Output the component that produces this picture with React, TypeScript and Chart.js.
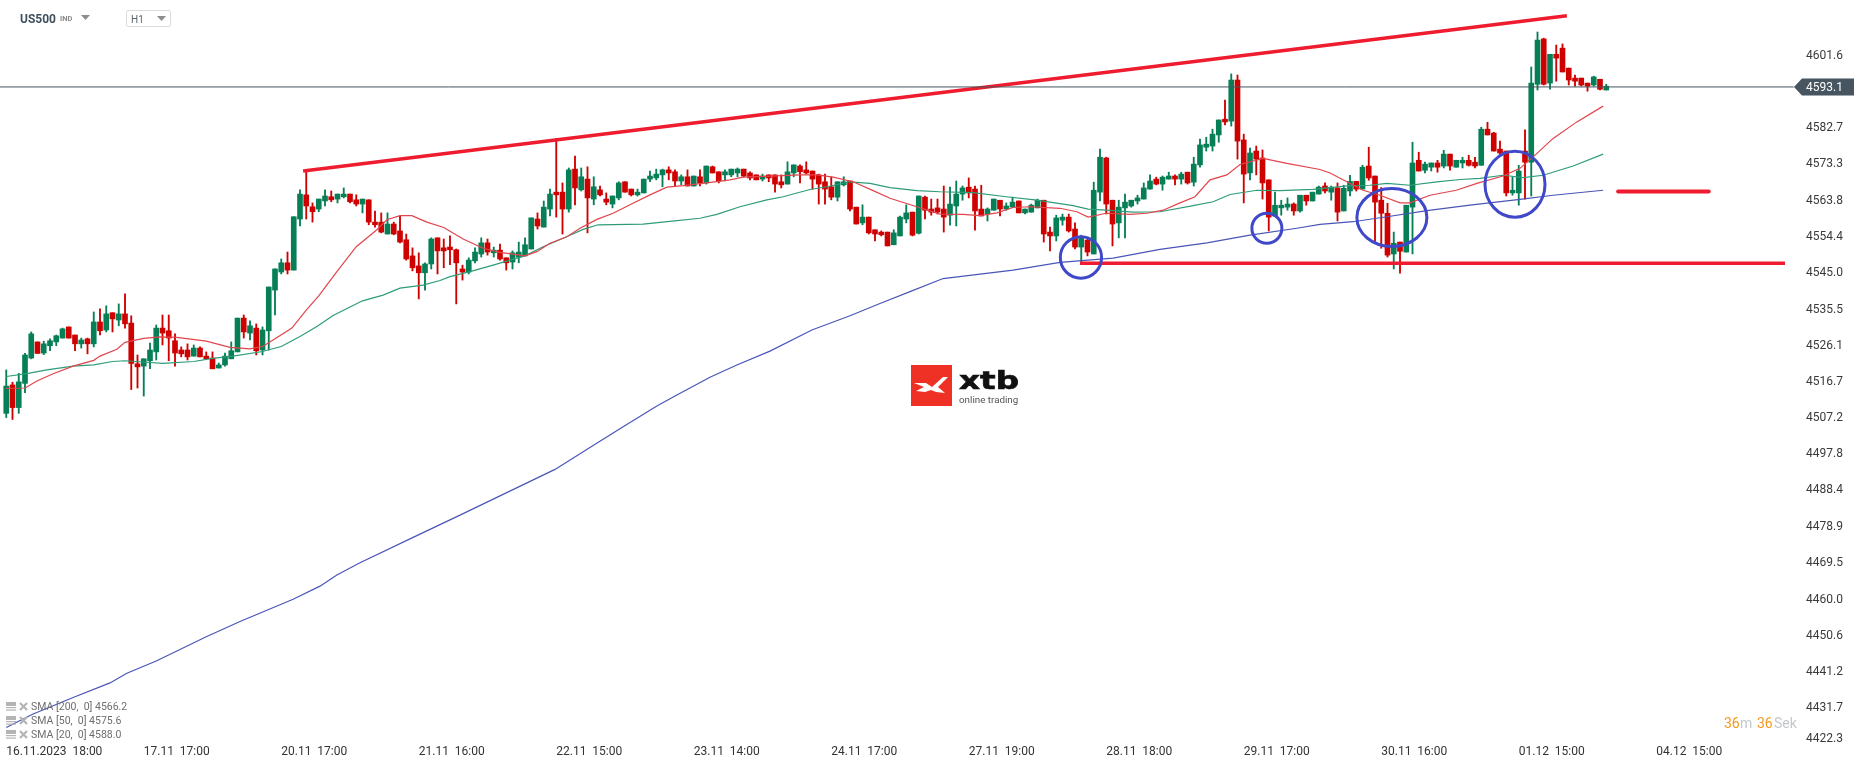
import React, { useEffect, useRef } from "react";
import { Chart, registerables } from "chart.js";

Chart.register(...registerables);

const candleDirections =
  "GRGGGRGGGG" + "RRGRGRGRGR" + "RRGGGRRRRR" + "GRRRGGGGRG" + "RGGGGRGGRR" + "GGRGGRRGRR" +
  "RGRRRRRGGR" + "RRRRGGGRGR" + "RGGGGRGGRR" + "GRGRGRRGGR" + "RGGGGGRRGR" + "GRGRRGGGRR" +
  "RGRRRGGRRR" + "RRRGGRRGRR" + "RRGGGRGRRR" + "RGGGRRRGGR" + "GGRGGGRRGG" + "RRGRGGRRGG" +
  "GGGGRGGRGR" + "GGGGGRGRRG" + "RRRGGGRGRG" + "GRGRGGRGRR" + "RRGRGGRGGR" + "GRGGRRGRRR" +
  "RGGRGGRGRR" + "RRRRGRG";

const bodyHigh = [
  4515.2,4515.5,4516.3,4523.3,4528.8,4526.7,4526.2,4527.0,4528.3,4530.1,
  4530.6,4528.5,4527.2,4527.5,4531.9,4531.9,4534.0,4534.3,4534.0,4534.0,
  4531.6,4521.0,4522.3,4524.6,4530.3,4530.3,4529.6,4527.0,4524.6,4524.6,
  4525.1,4525.1,4523.0,4522.5,4520.7,4523.0,4524.4,4532.9,4532.9,4530.9,
  4530.3,4529.8,4541.0,4545.7,4547.3,4547.3,4559.3,4565.2,4565.0,4561.9,
  4563.9,4564.7,4564.5,4565.2,4565.2,4565.2,4563.7,4563.9,4563.7,4557.9,
  4557.9,4557.4,4557.4,4555.6,4553.3,4549.1,4546.5,4547.0,4553.5,4553.8,
  4551.2,4551.4,4550.7,4545.7,4548.0,4550.1,4552.5,4552.5,4550.6,4550.6,
  4548.6,4549.9,4550.1,4552.0,4559.0,4558.7,4561.8,4565.2,4565.7,4565.7,
  4571.5,4571.7,4569.7,4569.1,4567.1,4566.3,4563.9,4564.7,4568.1,4568.4,
  4566.5,4565.7,4569.1,4569.9,4570.4,4571.5,4571.5,4571.0,4569.7,4569.7,
  4569.9,4569.7,4572.5,4572.3,4571.0,4571.0,4571.7,4571.7,4571.7,4570.7,
  4570.2,4569.9,4570.2,4570.2,4568.4,4571.0,4572.8,4572.5,4571.5,4571.2,
  4570.2,4568.4,4567.1,4568.4,4568.4,4568.6,4561.8,4559.2,4559.2,4555.9,
  4555.3,4555.3,4555.1,4559.2,4560.3,4560.5,4564.7,4564.4,4561.3,4561.6,
  4561.3,4562.6,4565.2,4566.8,4567.0,4566.5,4561.3,4561.3,4563.9,4563.6,
  4562.1,4563.1,4563.4,4561.3,4562.3,4563.6,4563.6,4555.3,4559.0,4559.2,
  4559.2,4556.1,4554.0,4553.2,4566.2,4574.8,4574.6,4563.6,4561.8,4563.1,
  4563.6,4564.2,4566.8,4568.6,4569.1,4569.6,4569.9,4569.9,4570.4,4570.9,
  4573.0,4578.0,4578.2,4580.8,4584.5,4584.7,4594.9,4594.9,4579.3,4575.9,
  4576.4,4574.6,4568.9,4562.3,4562.3,4562.6,4562.6,4564.9,4564.9,4565.7,
  4567.0,4567.3,4567.0,4566.8,4566.7,4568.5,4568.5,4572.2,4572.5,4569.9,
  4563.6,4560.2,4552.4,4552.7,4562.3,4573.3,4574.0,4573.0,4573.3,4573.3,
  4575.6,4575.6,4574.0,4574.0,4574.0,4573.5,4582.1,4582.1,4581.1,4576.9,
  4576.4,4566.2,4571.2,4576.4,4594.1,4605.3,4605.6,4601.6,4601.6,4603.2,
  4598.0,4595.4,4595.4,4594.1,4595.7,4595.1,4593.3,
];

const bodyLow = [
  4508.1,4509.6,4509.6,4515.9,4522.5,4523.7,4523.8,4525.7,4526.7,4527.7,
  4527.7,4526.2,4526.2,4526.2,4526.2,4529.6,4529.8,4532.7,4532.4,4531.4,
  4521.1,4520.2,4520.4,4521.8,4524.1,4529.0,4527.7,4523.8,4523.6,4522.8,
  4523.0,4522.8,4522.3,4519.7,4519.9,4520.7,4522.3,4524.1,4529.3,4529.0,
  4524.4,4524.6,4529.6,4540.2,4544.9,4545.4,4545.4,4558.7,4562.1,4560.6,
  4561.3,4563.4,4563.7,4563.9,4564.5,4563.2,4562.6,4562.6,4557.9,4557.2,
  4555.3,4554.8,4554.8,4552.7,4548.3,4546.0,4544.7,4544.7,4547.0,4550.4,
  4550.4,4550.7,4547.3,4544.9,4544.9,4547.8,4549.6,4550.1,4549.9,4548.3,
  4547.3,4547.5,4548.8,4549.1,4550.9,4556.9,4556.6,4561.3,4565.0,4561.3,
  4561.3,4566.8,4566.3,4564.2,4563.9,4565.0,4563.1,4562.6,4564.2,4565.7,
  4565.0,4565.0,4565.5,4569.1,4569.4,4570.2,4570.7,4568.6,4568.6,4567.3,
  4567.3,4568.1,4568.1,4570.7,4568.6,4570.2,4570.2,4570.7,4569.9,4569.4,
  4568.9,4569.1,4569.4,4567.8,4567.6,4567.8,4570.7,4571.0,4570.7,4569.1,
  4567.8,4566.5,4564.4,4564.4,4567.6,4561.3,4557.4,4557.7,4555.1,4554.8,
  4554.6,4551.7,4552.0,4554.3,4558.7,4554.5,4555.0,4561.0,4560.5,4560.5,
  4559.2,4559.7,4562.1,4565.2,4565.5,4560.8,4559.5,4560.0,4561.0,4561.3,
  4561.3,4561.8,4560.3,4560.3,4560.5,4561.6,4554.8,4554.3,4554.3,4558.4,
  4555.6,4551.4,4551.4,4550.1,4549.6,4565.7,4562.6,4557.4,4557.7,4561.6,
  4562.1,4563.4,4563.9,4566.5,4567.8,4567.8,4569.1,4569.1,4569.1,4568.1,
  4568.3,4572.8,4577.4,4577.7,4580.6,4584.0,4584.2,4579.0,4570.4,4570.7,
  4574.3,4568.1,4559.2,4559.5,4561.6,4561.8,4560.8,4560.8,4563.4,4563.4,
  4565.2,4566.0,4565.7,4560.5,4560.8,4566.0,4566.5,4566.5,4569.4,4563.1,
  4560.2,4549.3,4549.6,4550.3,4550.1,4561.8,4571.2,4571.4,4572.2,4572.2,
  4572.5,4572.5,4572.2,4573.3,4572.7,4572.5,4572.7,4580.6,4576.4,4575.9,
  4565.5,4565.5,4565.5,4573.5,4573.5,4593.8,4593.8,4594.1,4600.6,4597.0,
  4594.9,4594.6,4593.6,4593.3,4593.6,4592.5,4592.3,
];

const wickHigh = [
  4519.4,4516.2,4518.5,4523.7,4529.3,4526.7,4526.9,4527.5,4528.5,4530.3,
  4530.6,4528.5,4527.7,4527.7,4534.5,4535.3,4536.1,4534.3,4536.6,4539.2,
  4533.5,4523.3,4522.3,4526.4,4531.1,4533.7,4533.7,4528.8,4525.4,4526.2,
  4525.9,4525.4,4524.1,4524.1,4521.2,4523.8,4526.7,4532.9,4533.7,4532.2,
  4531.4,4530.6,4541.0,4545.7,4548.3,4550.1,4559.3,4566.3,4571.1,4562.9,
  4563.9,4566.3,4566.0,4565.2,4566.8,4565.2,4565.0,4563.9,4563.7,4560.8,
  4560.3,4560.3,4557.9,4559.5,4554.8,4551.2,4549.9,4547.3,4553.8,4553.8,
  4553.5,4554.3,4550.9,4546.7,4548.6,4551.2,4553.8,4553.5,4551.4,4552.2,
  4548.6,4550.4,4552.7,4553.8,4559.0,4560.3,4563.4,4566.5,4579.7,4568.1,
  4572.0,4575.1,4572.0,4572.3,4569.7,4567.3,4565.5,4564.7,4568.4,4568.4,
  4566.5,4566.5,4569.1,4571.2,4571.7,4571.7,4572.3,4571.5,4570.2,4571.5,
  4569.9,4571.5,4572.5,4572.5,4571.0,4571.5,4571.7,4572.0,4571.7,4571.0,
  4570.2,4570.4,4570.2,4570.2,4570.2,4573.6,4572.8,4572.8,4573.6,4571.2,
  4570.4,4570.4,4569.7,4568.4,4569.7,4568.6,4561.8,4562.4,4559.2,4555.9,
  4555.6,4555.3,4555.9,4559.5,4562.4,4560.5,4564.7,4564.7,4563.9,4563.9,
  4567.3,4567.0,4568.6,4567.3,4569.4,4567.3,4567.5,4561.6,4563.9,4563.6,
  4562.9,4564.4,4563.4,4561.3,4562.6,4563.9,4563.6,4556.6,4559.7,4560.0,
  4560.0,4557.7,4554.5,4554.0,4568.3,4576.9,4574.8,4563.6,4563.6,4565.2,
  4563.6,4564.9,4568.1,4570.2,4569.6,4569.9,4570.9,4570.2,4570.9,4570.9,
  4574.8,4579.5,4580.0,4582.1,4584.5,4589.7,4596.5,4596.2,4580.8,4577.2,
  4577.7,4576.7,4568.9,4565.7,4563.6,4564.2,4562.9,4564.9,4564.9,4565.7,
  4567.3,4568.1,4567.3,4568.1,4567.5,4570.1,4568.5,4572.7,4577.4,4569.9,
  4566.9,4562.8,4555.3,4552.7,4562.3,4578.7,4576.1,4573.5,4573.3,4574.0,
  4576.6,4575.6,4574.0,4574.8,4575.3,4574.8,4582.6,4583.9,4581.3,4579.0,
  4576.4,4569.6,4572.7,4581.9,4598.3,4607.4,4605.8,4601.6,4604.0,4604.3,
  4598.0,4596.2,4595.4,4594.1,4595.9,4595.1,4593.8,
];

const wickLow = [
  4507.0,4506.5,4508.1,4513.5,4522.3,4523.7,4523.4,4524.4,4525.7,4527.7,
  4527.7,4524.4,4525.1,4523.6,4525.4,4528.5,4529.3,4529.3,4530.9,4530.3,
  4514.3,4514.7,4512.6,4519.7,4522.0,4525.9,4521.8,4520.4,4522.8,4522.0,
  4523.0,4522.8,4522.3,4519.7,4519.9,4520.4,4522.3,4524.1,4527.7,4527.2,
  4523.3,4523.3,4524.6,4533.7,4544.4,4544.4,4545.4,4556.9,4558.7,4557.9,
  4560.6,4562.1,4563.2,4562.9,4564.2,4562.9,4562.1,4560.3,4557.2,4556.6,
  4555.1,4554.8,4554.6,4552.5,4548.0,4545.2,4537.9,4540.2,4545.7,4544.4,
  4546.0,4546.8,4536.6,4542.8,4544.4,4547.3,4548.8,4549.3,4548.8,4548.0,
  4545.4,4545.7,4547.3,4549.1,4550.9,4556.1,4556.6,4559.5,4559.2,4554.8,
  4560.5,4562.4,4566.0,4555.1,4562.4,4564.7,4562.4,4561.6,4563.7,4565.7,
  4564.7,4564.7,4565.5,4568.4,4568.9,4567.1,4568.9,4567.3,4567.6,4567.3,
  4567.3,4567.3,4567.8,4570.7,4568.1,4568.6,4569.7,4569.7,4569.7,4568.9,
  4568.9,4568.6,4568.4,4565.7,4566.8,4567.8,4569.7,4568.1,4570.4,4566.5,
  4562.6,4562.6,4563.7,4563.4,4567.3,4560.8,4557.4,4557.2,4554.8,4553.0,
  4554.3,4551.7,4552.0,4554.3,4557.7,4554.3,4554.8,4558.7,4559.7,4560.0,
  4555.3,4557.1,4556.9,4563.6,4564.2,4555.8,4559.5,4558.2,4561.0,4559.5,
  4561.0,4561.8,4560.3,4560.0,4560.5,4561.6,4552.7,4550.4,4553.0,4557.1,
  4555.3,4550.9,4547.5,4549.1,4549.6,4563.4,4560.0,4551.7,4553.8,4553.8,
  4561.8,4562.6,4563.9,4566.5,4567.6,4566.2,4569.1,4567.6,4567.8,4567.8,
  4567.3,4572.2,4576.4,4576.4,4578.7,4583.2,4582.9,4574.3,4562.9,4568.9,
  4570.2,4563.9,4555.6,4559.5,4559.7,4561.0,4559.7,4560.5,4562.3,4563.4,
  4565.2,4565.5,4563.6,4558.2,4560.8,4564.7,4566.0,4566.5,4568.8,4552.9,
  4551.1,4548.8,4545.7,4544.6,4550.1,4549.6,4571.2,4570.7,4571.2,4570.9,
  4572.0,4571.4,4572.2,4572.0,4572.5,4572.0,4572.7,4580.6,4576.4,4575.3,
  4564.7,4564.9,4562.3,4563.9,4564.7,4592.3,4593.6,4592.5,4594.6,4597.0,
  4593.6,4593.3,4593.3,4592.0,4593.3,4592.3,4592.3,
];

const sma20Index = [
  1,4,6,8.5,11.7,15,16,18.7,20,23,25.6,28.3,33,36.8,40,42,43.7,46.7,49,51,53.9,57,60.3,61.9,64,65.9,68.3,71,
  74.1,77.3,80,84,85.9,88,90.7,92.8,95.5,98.1,100.8,104,106.7,109.3,114,116.8,118.9,123.2,128,130.7,133.3,136.5,139.7,142.4,
  146.7,150.4,154.1,156.8,159.5,162.1,164.8,169.6,172.3,174.1,177,180.8,183.5,186.1,188.8,191.2,193.6,196.3,198.4,202.1,205.9,
  211.2,212.8,215.5,218.1,220.8,224,225.6,228.8,233,236.3,240.5,243.2,245.3,248.5,252.3,256.5,
];
const sma20Values = [
  4514.6,4514.7,4516.6,4518.4,4520.4,4521.9,4523.0,4524.8,4526.6,4527.6,4528.0,4527.9,4526.9,4525.3,4524.9,4525.5,4527.2,4530.3,4535.0,4538.7,4545.0,4551.5,4555.9,4558.5,4559.6,4559.6,4557.9,4556.5,
  4553.5,4551.1,4550.0,4549.1,4550.2,4552.4,4554.1,4556.3,4558.6,4560.2,4562.4,4565.0,4567.0,4567.4,4568.3,4568.9,4569.6,4569.9,4570.2,4570.2,4569.6,4568.4,4566.1,4564.1,
  4561.9,4560.0,4559.9,4559.6,4560.3,4561.7,4561.9,4561.5,4560.6,4559.2,4560.2,4559.9,4560.2,4561.0,4562.9,4564.5,4568.9,4570.2,4572.9,4574.5,4573.2,
  4571.6,4570.7,4568.4,4566.2,4564.9,4562.9,4562.9,4564.9,4566.2,4568.0,4569.9,4571.9,4574.9,4579.7,4584.0,4588.1,
];

const sma50Index = [
  1,4.5,7.5,11.7,15,18,20,23.5,26,31,34,37.3,42,45,48,50.7,53.3,58,61.3,64,67.7,70.4,
  72,75.2,78.9,82,84,86.9,90.1,93.3,95.7,102.9,107.2,112,114.7,118.4,122.7,125.3,129.6,132.3,136,139.2,142.4,
  146.7,150.4,155.7,161,165.9,171.7,174.1,177,181.3,185.6,190.9,194.1,196.8,201.1,204.8,210.1,
  216,219.2,221.9,225.6,229.9,233.6,236.8,240.5,243.7,246.9,251.7,256.5,
];
const sma50Values = [
  4517.7,4518.5,4519.4,4520.4,4520.7,4521.6,4521.8,4521.4,4521.1,4521.6,4522.4,4523.0,4524.2,4525.5,4528.1,4530.7,4533.6,4537.4,4538.9,4540.7,4541.5,4542.7,
  4543.7,4545.0,4546.7,4548.2,4549.1,4551.5,4553.7,4556.0,4557.2,4557.4,4558.1,4558.9,4559.9,4561.9,4563.7,4564.5,4566.4,4567.1,4568.4,4568.0,4566.9,
  4566.1,4565.8,4565.6,4564.5,4563.6,4562.2,4561.3,4561.0,4560.5,4560.6,4562.2,4563.2,4565.1,4566.2,4566.1,4566.4,
  4567.4,4567.5,4568.0,4567.5,4568.4,4569.0,4569.3,4570.1,4569.5,4570.1,4572.5,4575.6,
];

const sma200Index = [
  1,5.3,11.7,17.6,20.3,25,33,38.4,46.9,51.2,53.9,57.6,66.1,73.6,
  88.8,94.9,99.7,105.1,108.3,113.6,117.9,123.2,129.9,136,140.8,145.6,
  150.9,162.1,169.6,178.1,185.6,193.1,200,207.5,
  211.2,216.5,221.9,228.3,235.2,243.2,248.5,256.5,
];
const sma200Values = [
  4426.3,4429.8,4434.1,4437.9,4440.4,4443.6,4449.9,4453.9,4459.7,4463.1,4466.0,4469.2,4475.8,4481.6,
  4493.5,4499.7,4504.6,4510.0,4512.9,4517.5,4520.7,4524.3,4529.8,4533.5,4536.7,4539.8,
  4543.2,4545.4,4547.4,4548.5,4550.8,4552.5,4554.5,4556.3,
  4557.3,4558.0,4559.3,4560.9,4562.3,4563.8,4564.9,4566.2,
];

const priceLevel = 4593.1;
const priceLineIndex = [0, 287];

const risingLineIndex = [48.5, 250.7];
const risingLineValues = [4571.2, 4611.65];
const supportLineIndex = [172.8, 285.6];
const supportLineValue = 4547.2;
const targetLineIndex = [258.9, 273.4];
const targetLineValue = 4565.9;

const circleIndex = [172.95, 202.7, 222.7, 242.4];
const circleValues = [4548.7, 4556.3, 4559.1, 4567.75];
const circleIndexRadius = [3.3, 2.4, 5.6, 4.8];
const circleValueRadius = [5.4, 3.9, 7.55, 8.6];

const xTickIndex = [1, 23, 45, 67, 89, 111, 133, 155, 177, 199, 221, 243, 265];
const xTickLabels = [
  "16.11.2023  18:00", "17.11  17:00", "20.11  17:00", "21.11  16:00", "22.11  15:00", "23.11  14:00",
  "24.11  17:00", "27.11  19:00", "28.11  18:00", "29.11  17:00", "30.11  16:00", "01.12  15:00", "04.12  15:00",
];

const yTickValues = [
  4601.6, 4593.1, 4582.7, 4573.3, 4563.8, 4554.4, 4545.0, 4535.5, 4526.1, 4516.7, 4507.2, 4497.8, 4488.4,
  4478.9, 4469.5, 4460.0, 4450.6, 4441.2, 4431.7, 4423.6,
];
const yTickLabels = [
  "4601.6", "4593.1", "4582.7", "4573.3", "4563.8", "4554.4", "4545.0", "4535.5", "4526.1", "4516.7", "4507.2", "4497.8", "4488.4",
  "4478.9", "4469.5", "4460.0", "4450.6", "4441.2", "4431.7", "4422.3",
];

const legendRows = ["SMA [200,  0] 4566.2", "SMA [50,  0] 4575.6", "SMA [20,  0] 4588.0"];

const GREEN = "#067f56";
const RED = "#cf0000";
const MARK_RED = "#ee1c2e";
const CIRCLE_BLUE = "#3f48c8";
const FONT = "Roboto, sans-serif";

const toPoints = (xs: number[], ys: number[]) => xs.map((x, i) => ({ x, y: ys[i] }));

const noScalePadding = (s: any) => {
  s.paddingTop = 0;
  s.paddingBottom = 0;
  s.paddingLeft = 0;
  s.paddingRight = 0;
};

const drawingsPlugin = {
  id: "drawings",
  beforeDraw(chart: any) {
    const ctx = chart.ctx;
    const y = chart.scales.y.getPixelForValue(priceLevel);
    const tip = chart.chartArea.right;
    ctx.save();
    ctx.fillStyle = "#46555f";
    ctx.beginPath();
    ctx.moveTo(tip, y);
    ctx.lineTo(tip + 8, y - 8.5);
    ctx.lineTo(1854, y - 8.5);
    ctx.lineTo(1854, y + 8.5);
    ctx.lineTo(tip + 8, y + 8.5);
    ctx.closePath();
    ctx.fill();
    ctx.restore();
  },
  afterDatasetsDraw(chart: any) {
    const ctx = chart.ctx;
    const sx = chart.scales.x;
    const sy = chart.scales.y;
    ctx.save();
    ctx.strokeStyle = CIRCLE_BLUE;
    ctx.lineWidth = 3;
    circleIndex.forEach((n, i) => {
      const cx = sx.getPixelForValue(n);
      const cy = sy.getPixelForValue(circleValues[i]);
      const rx = Math.abs(sx.getPixelForValue(n + circleIndexRadius[i]) - cx);
      const ry = Math.abs(sy.getPixelForValue(circleValues[i] + circleValueRadius[i]) - cy);
      ctx.beginPath();
      ctx.ellipse(cx, cy, rx, ry, 0, 0, Math.PI * 2);
      ctx.stroke();
    });
    ctx.restore();
  },
};

const Text = ({ x, y, size, color, weight, family, style, children }: any) => (
  <span
    style={{
      position: "absolute",
      left: x,
      top: y - 10,
      height: 20,
      lineHeight: "20px",
      fontFamily: family ?? FONT,
      fontSize: size,
      color,
      fontWeight: weight ?? 400,
      whiteSpace: "pre",
      ...style,
    }}
  >
    {children}
  </span>
);

const Caret = ({ x, y }: any) => (
  <svg style={{ position: "absolute", left: x, top: y }} width="10" height="6">
    <polygon points="0,0 9,0 4.5,5" fill="#8d8d8d" />
  </svg>
);

export default function App() {
  const canvasRef = useRef<HTMLCanvasElement | null>(null);

  useEffect(() => {
    const n = bodyHigh.length;
    const isUp = Array.from(candleDirections).map((d) => d === "G");
    const colours = isUp.map((u) => (u ? GREEN : RED));
    const idx = Array.from({ length: n }, (_, i) => i + 1);
    const line = (data: any, color: string, width: number, order: number, extra: any = {}) => ({
      type: "line",
      data,
      borderColor: color,
      backgroundColor: color,
      borderWidth: width,
      pointRadius: 0,
      tension: 0,
      order,
      ...extra,
    });
    const chart = new Chart(canvasRef.current as any, {
      type: "bar",
      data: {
        datasets: [
          line(toPoints(priceLineIndex, [priceLevel, priceLevel]), "#46555f", 1, 1),
          {
            type: "bar",
            data: idx.map((x, i) => ({ x, y: [wickLow[i], wickHigh[i]] })),
            backgroundColor: colours,
            barThickness: 1.2,
            grouped: false,
            order: 9,
          },
          {
            type: "bar",
            data: idx.map((x, i) => ({ x, y: [bodyLow[i], bodyHigh[i]] })),
            backgroundColor: colours,
            barThickness: 5,
            grouped: false,
            order: 8,
          },
          line(toPoints(sma200Index, sma200Values), "#4a55b8", 1.2, 7),
          line(toPoints(sma50Index, sma50Values), "#2e9c78", 1.2, 6),
          line(toPoints(sma20Index, sma20Values), "#e2454c", 1.2, 5),
          line(toPoints(risingLineIndex, risingLineValues), MARK_RED, 3.4, 4),
          line(toPoints(supportLineIndex, [supportLineValue, supportLineValue]), MARK_RED, 3.6, 3),
          line(toPoints(targetLineIndex, [targetLineValue, targetLineValue]), MARK_RED, 4, 2, { borderCapStyle: "round" }),
        ] as any,
      },
      options: {
        responsive: false,
        animation: false,
        devicePixelRatio: 1,
        layout: { padding: 0 },
        plugins: { legend: { display: false }, tooltip: { enabled: false } },
        scales: {
          x: {
            type: "linear",
            offset: false,
            min: 0,
            max: 287.04,
            grid: { display: false, drawTicks: false },
            border: { display: false },
            afterFit: (s: any) => {
              s.height = 22;
              noScalePadding(s);
            },
            afterBuildTicks: (s: any) => {
              s.ticks = xTickIndex.map((value) => ({ value }));
            },
            ticks: {
              autoSkip: false,
              maxRotation: 0,
              minRotation: 0,
              align: "start",
              padding: 0,
              color: "#333",
              font: { family: FONT, size: 12 },
              callback: (_v: any, i: number) => xTickLabels[i],
            },
          },
          y: {
            position: "right",
            min: 4421.73,
            max: 4615.74,
            grid: { display: false, drawTicks: false },
            border: { display: false },
            afterFit: (s: any) => {
              s.width = 72;
              noScalePadding(s);
            },
            afterBuildTicks: (s: any) => {
              s.ticks = yTickValues.map((value) => ({ value }));
            },
            ticks: {
              autoSkip: false,
              padding: 12,
              labelOffset: 1.5,
              crossAlign: "near",
              color: (c: any) => (c.tick?.value === priceLevel ? "#ffffff" : "#3a3a3a"),
              font: { family: FONT, size: 12 },
              callback: (_v: any, i: number) => yTickLabels[i],
            },
          },
        },
      } as any,
      plugins: [drawingsPlugin as any],
    } as any);
    return () => chart.destroy();
  }, []);

  return (
    <div style={{ position: "absolute", left: 0, top: 0, width: 1866, height: 767, overflow: "hidden", background: "#fff" }}>
      <canvas ref={canvasRef} width={1866} height={767} style={{ position: "absolute", left: 0, top: 0, width: 1866, height: 767 }} />

      <Text x={20} y={19} size={12} color="#3f505c" weight={700}>US500</Text>
      <Text x={60} y={19} size={7.5} color="#8a8a8a" weight={700}>IND</Text>
      <Caret x={81} y={15} />
      <div style={{ position: "absolute", left: 126, top: 10, width: 43, height: 15, border: "1px solid #dcdcdc", borderRadius: 2 }} />
      <Text x={131} y={20} size={10} color="#5a6670">H1</Text>
      <Caret x={157} y={16} />

      {legendRows.map((label, i) => (
        <React.Fragment key={label}>
          <svg style={{ position: "absolute", left: 6, top: 702 + i * 14 }} width="24" height="10">
            <rect x="0" y="0" width="10" height="4" fill="#b4b4b4" />
            <rect x="0" y="5" width="10" height="1.2" fill="#b4b4b4" />
            <rect x="0" y="7.5" width="10" height="1.2" fill="#b4b4b4" />
            <path d="M14 1 L21 8 M21 1 L14 8" stroke="#b4b4b4" strokeWidth="2.2" />
          </svg>
          <Text x={31} y={707 + i * 14} size={10.5} color="#6e6e6e">{label}</Text>
        </React.Fragment>
      ))}

      <svg style={{ position: "absolute", left: 911, top: 365 }} width="41" height="41">
        <rect width="41" height="41" fill="#ee3124" />
        <polygon points="3,18 15,18 21,22 32,12 37,12 27,22 34,28 25,27 20,25 14,27 5,26 13,22" fill="#fff" />
      </svg>
      <Text x={959} y={381} size={24} color="#111" weight={700} family="'DejaVu Sans', sans-serif" style={{ transform: "scaleX(1.36)", transformOrigin: "left center", WebkitTextStroke: "0.6px #111" }}>xtb</Text>
      <Text x={959} y={400} size={9.8} color="#555">online trading</Text>

      <Text x={1724} y={723} size={14} color="#f7981d">36</Text>
      <Text x={1740} y={723} size={14} color="#c4c8cc">m</Text>
      <Text x={1757} y={723} size={14} color="#f7981d">36</Text>
      <Text x={1774} y={723} size={14} color="#c4c8cc">Sek</Text>
    </div>
  );
}
